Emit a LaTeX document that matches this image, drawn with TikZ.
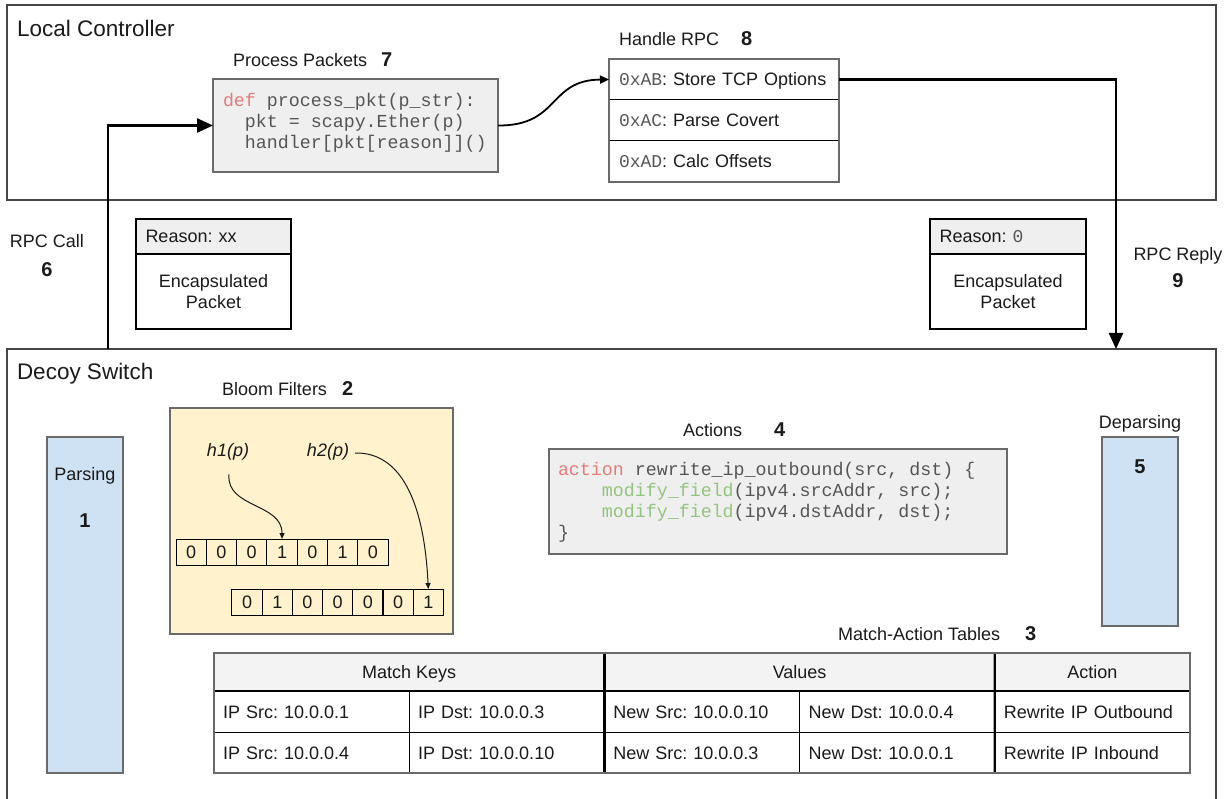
\documentclass[tikz,border=0pt]{standalone}
\usepackage{fontspec}
\setmainfont{Liberation Sans}
\setmonofont{Liberation Mono}
\usetikzlibrary{arrows.meta}
\frenchspacing
\newcommand\myfs[1]{\fontsize{#1}{#1}\selectfont}
\definecolor{codebg}{HTML}{EFEFEF}
\definecolor{hdrbg}{HTML}{F3F3F3}
\definecolor{bluebg}{HTML}{CFE2F3}
\definecolor{yellowbg}{HTML}{FFF2CC}
\definecolor{kwred}{HTML}{E47B7B}
\definecolor{kwgreen}{HTML}{93C47D}
\definecolor{codetext}{HTML}{555555}
\definecolor{frame}{HTML}{454545}
\definecolor{boxline}{HTML}{6A6A6A}
\definecolor{txt}{HTML}{1A1A1A}
\begin{document}
\frenchspacing
\begin{tikzpicture}[x=1pt,y=-1pt,
  every node/.style={inner sep=0pt, outer sep=0pt, text=txt},
  bigframe/.style={draw=frame, line width=2pt},
  codebox/.style={draw=boxline, line width=1.3pt, fill=codebg},
  lbl/.style={anchor=base west, font=\myfs{18}},
  num/.style={anchor=base west, font=\bfseries\myfs{20}},
  code/.style={anchor=base west, font=\ttfamily\myfs{18.3}, text=codetext},
  rpcrow/.style={draw=black, line width=1pt, minimum width=230pt, minimum height=41pt,
    text width=210pt, inner xsep=10pt, align=left, text height=13pt, text depth=0pt, font=\myfs{18}},
  stagebox/.style={draw=boxline, line width=1.3pt, fill=bluebg, minimum width=76pt},
  bit/.style={draw=black, line width=1pt, minimum width=30.3pt, minimum height=26pt, font=\myfs{18}},
  hcell/.style={draw=black, line width=1pt, fill=hdrbg, minimum height=38pt,
    text height=13pt, text depth=0pt, font=\myfs{18}},
  dcell/.style={draw=black, line width=1pt, minimum height=41pt, text width=177.2pt,
    inner xsep=9pt, align=left, text height=13pt, text depth=0pt, font=\myfs{18}},
  bigarrow/.style={draw=black, line width=2.5pt, -{Triangle[length=16pt,width=14pt]}},
  thinarrow/.style={draw=txt, line width=1pt, -{Triangle[length=6pt,width=5pt]}},
  reasonhdr/.style={draw=black, line width=1.3pt, fill=codebg, minimum height=35pt,
    text height=13pt, text depth=0pt, inner xsep=9.5pt, align=left, font=\myfs{18}},
  reasonbody/.style={draw=black, line width=1.3pt, minimum height=75pt, align=center,
    font=\fontsize{18}{21}\selectfont}
]
\useasboundingbox (0,0) rectangle (1231,799);

% ---------------- Local Controller ----------------
\node[bigframe, minimum width=1209pt, minimum height=195pt] (lc) at (611.5,102.5) {};
\node[anchor=base west, font=\myfs{22.5}] (lctitle) at (17,37) {Local Controller};

% Process packets
\node[lbl] (pplbl) at (233,67) {Process Packets};
\node[num] (pp7) at (381,67) {7};
\node[codebox, minimum width=285pt, minimum height=93pt] (proc) at (355.5,125.5) {};
\node[code] (pc1) at (223,107) {{\color{kwred}def} process\_pkt(p\_str):};
\node[code] (pc2) at (223,128) {\ \ pkt = scapy.Ether(p)};
\node[code] (pc3) at (223,149) {\ \ handler[pkt[reason]]()};

% Handle RPC
\node[lbl] (hrlbl) at (619,46) {Handle RPC};
\node[num] (hr8) at (741,46) {8};
\node[rpcrow] (rpc1) at (724,79.5) {{\ttfamily\color{codetext}0xAB}: Store TCP Options};
\node[rpcrow] (rpc2) at (724,120.5) {{\ttfamily\color{codetext}0xAC}: Parse Covert};
\node[rpcrow] (rpc3) at (724,161.5) {{\ttfamily\color{codetext}0xAD}: Calc Offsets};
\draw[draw=boxline, line width=1.3pt] (rpc1.north west) rectangle (rpc3.south east);

\draw[draw=black, line width=1.8pt, -{Triangle[length=9pt,width=8pt]}]
  (proc.east) .. controls (560,126) and (548,80) .. (rpc1.west);

% ---------------- between ----------------
\node[anchor=base, font=\myfs{18}] (rpccall) at (47,248) {RPC Call};
\node[anchor=base, font=\bfseries\myfs{20}] (n6) at (47,277) {6};
\node[anchor=base, font=\myfs{18}] (rpcreply) at (1178,261) {RPC Reply};
\node[anchor=base, font=\bfseries\myfs{20}] (n9) at (1178,288) {9};

\node[reasonhdr, minimum width=155pt, text width=136pt] (rl) at (213.5,236.5) {Reason: xx};
\node[reasonbody, minimum width=155pt] (el) at (213.5,291.5) {Encapsulated\\Packet};
\node[reasonhdr, minimum width=156pt, text width=137pt] (rr) at (1008,236.5) {Reason: {\ttfamily\color{codetext}0}};
\node[reasonbody, minimum width=156pt] (er) at (1008,291.5) {Encapsulated\\Packet};

% ---------------- Decoy Switch ----------------
\draw[bigframe] (7,810) -- (7,349) -- (1216,349) -- (1216,810);
\node[anchor=base west, font=\myfs{22.5}] (dstitle) at (17,380) {Decoy Switch};
\coordinate (callstart) at (108,349);
\coordinate (replyend) at (1116,349);

\draw[bigarrow] (callstart) |- (proc.west);
\draw[bigarrow] (rpc1.east) -| (replyend);

% Parsing
\node[stagebox, minimum height=336pt] (parse) at (85,605) {};
\node[anchor=base, font=\myfs{18}] (parselbl) at (85,480) {Parsing};
\node[anchor=base, font=\bfseries\myfs{20}] (n1) at (85,527) {1};

% Bloom filters
\node[lbl] (bflbl) at (222,395) {Bloom Filters};
\node[num] (n2) at (342,395) {2};
\node[draw=boxline, line width=1.3pt, fill=yellowbg, minimum width=283pt, minimum height=226pt] (bloom) at (311.5,521) {};
\node[font=\itshape\myfs{18}] (h1) at (228,452) {h1(p)};
\node[font=\itshape\myfs{18}] (h2) at (328,452) {h2(p)};
\foreach \b [count=\i] in {0,0,0,1,0,1,0}
  \node[bit] (a1-\i) at ({176+30.3*\i-15.15},552) {\b};
\foreach \b [count=\i] in {0,1,0,0,0,0,1}
  \node[bit] (a2-\i) at ({232+30.2*\i-15.1},602) {\b};
\draw[thinarrow] ([xshift=1pt,yshift=-14pt]h1.south) .. controls (226,508) and (282,503) .. (a1-4.north);
\draw[thinarrow] ([xshift=6pt,yshift=-1pt]h2.east) .. controls (400,452) and (424,500) .. (a2-7.north);

% Actions
\node[lbl] (actlbl) at (683,436) {Actions};
\node[num] (n4) at (774,436) {4};
\node[codebox, minimum width=458pt, minimum height=105pt] (actions) at (778,501.5) {};
\node[code] (ac1) at (558,475) {{\color{kwred}action} rewrite\_ip\_outbound(src, dst) \{};
\node[code] (ac2) at (558,496) {\ \ \ \ {\color{kwgreen}modify\_field}(ipv4.srcAddr, src);};
\node[code] (ac3) at (558,517) {\ \ \ \ {\color{kwgreen}modify\_field}(ipv4.dstAddr, dst);};
\node[code] (ac4) at (558,538) {\}};

% Deparsing
\node[stagebox, minimum height=189pt] (deparse) at (1140,531.5) {};
\node[anchor=base, font=\myfs{18}] (deplbl) at (1140,428) {Deparsing};
\node[anchor=base, font=\bfseries\myfs{20}] (n5) at (1140,473) {5};

% Match-Action tables
\node[lbl] (matlbl) at (838,640) {Match-Action Tables};
\node[num] (n3) at (1025,640) {3};
\node[hcell, minimum width=390.4pt] (mk) at (409.2,672) {Match Keys};
\node[hcell, minimum width=390.4pt] (vals) at (799.6,672) {Values};
\node[hcell, minimum width=195.2pt] (act) at (1092.4,672) {Action};
\node[dcell] (r1c1) at (311.6,711.5) {IP Src: 10.0.0.1};
\node[dcell] (r1c2) at (506.8,711.5) {IP Dst: 10.0.0.3};
\node[dcell] (r1c3) at (702.0,711.5) {New Src: 10.0.0.10};
\node[dcell] (r1c4) at (897.2,711.5) {New Dst: 10.0.0.4};
\node[dcell] (r1c5) at (1092.4,711.5) {Rewrite IP Outbound};
\node[dcell] (r2c1) at (311.6,752.5) {IP Src: 10.0.0.4};
\node[dcell] (r2c2) at (506.8,752.5) {IP Dst: 10.0.0.10};
\node[dcell] (r2c3) at (702.0,752.5) {New Src: 10.0.0.3};
\node[dcell] (r2c4) at (897.2,752.5) {New Dst: 10.0.0.1};
\node[dcell] (r2c5) at (1092.4,752.5) {Rewrite IP Inbound};
\draw[black, line width=2.2pt] (mk.south west) -- (act.south east);
\draw[black, line width=2.2pt] (mk.north east) -- (r2c2.south east);
\draw[black, line width=2.2pt] (vals.north east) -- (r2c4.south east);
\draw[draw=boxline, line width=1.2pt] (mk.north west) rectangle (r2c5.south east);
\end{tikzpicture}
\end{document}
